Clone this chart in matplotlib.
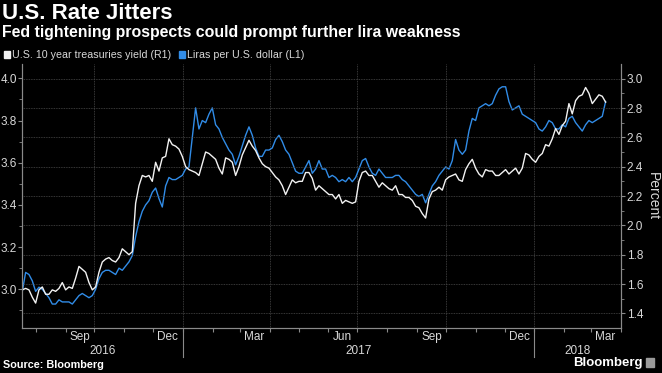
import pandas as pd
import matplotlib.pyplot as plt
import matplotlib.dates as mdates
from matplotlib.patches import Rectangle
from matplotlib.lines import Line2D

# readings, roughly every 3.5 days
dates = pd.date_range("2016-07-18", "2018-03-16", periods=176)

yield_pct = [
    1.56, 1.57, 1.56, 1.51, 1.47, 1.56, 1.58, 1.53, 1.53, 1.56, 1.55, 1.57, 1.61, 1.56, 1.58, 1.57,
    1.64, 1.72, 1.70, 1.68, 1.61, 1.56, 1.58, 1.68, 1.75, 1.77, 1.78, 1.76, 1.75, 1.78, 1.84, 1.82,
    1.80, 1.82, 2.15, 2.27, 2.34, 2.33, 2.34, 2.30, 2.43, 2.37, 2.46, 2.47, 2.59, 2.55, 2.54,
    2.52, 2.47, 2.40, 2.38, 2.37, 2.36, 2.34, 2.42, 2.50, 2.49, 2.47, 2.45, 2.39, 2.35, 2.46, 2.45,
    2.43, 2.34, 2.40, 2.48, 2.53, 2.58, 2.54, 2.51, 2.46, 2.42, 2.40, 2.39, 2.36, 2.33, 2.31, 2.27,
    2.21, 2.26, 2.31, 2.29, 2.30, 2.30, 2.36, 2.36, 2.32, 2.24, 2.27, 2.25, 2.23, 2.21,
    2.21, 2.18, 2.21, 2.15, 2.17, 2.16, 2.15, 2.16, 2.30, 2.36, 2.37, 2.34, 2.34, 2.30, 2.26, 2.29,
    2.27, 2.25, 2.24, 2.27, 2.21, 2.21, 2.19, 2.19, 2.17, 2.13, 2.12, 2.08, 2.05, 2.18, 2.23, 2.24,
    2.26, 2.24, 2.31, 2.33, 2.34, 2.35, 2.31, 2.30, 2.38, 2.42, 2.45, 2.39, 2.35,
    2.33, 2.38, 2.37, 2.37, 2.34, 2.34, 2.36, 2.38, 2.35, 2.37, 2.39, 2.35, 2.39, 2.49, 2.48, 2.45,
    2.43, 2.47, 2.49, 2.55, 2.54, 2.59, 2.66, 2.62, 2.68, 2.71, 2.83, 2.76, 2.85, 2.88, 2.89, 2.94,
    2.90, 2.83, 2.86, 2.89, 2.88, 2.84,
]

lira_per_usd = [
    2.99, 3.08, 3.07, 3.04, 2.99, 3.01, 3.00, 2.98, 2.96, 2.93, 2.93, 2.95, 2.94, 2.94, 2.94, 2.93,
    2.95, 2.97, 2.98, 2.97, 2.96, 2.97, 3.00, 3.05, 3.08, 3.09, 3.09, 3.08, 3.07, 3.10, 3.09, 3.11,
    3.13, 3.16, 3.25, 3.32, 3.37, 3.40, 3.42, 3.46, 3.48, 3.43, 3.39, 3.49, 3.53, 3.52, 3.52,
    3.53, 3.54, 3.57, 3.58, 3.72, 3.86, 3.76, 3.80, 3.79, 3.83, 3.86, 3.78, 3.76, 3.72, 3.69, 3.66,
    3.64, 3.59, 3.63, 3.68, 3.73, 3.77, 3.73, 3.67, 3.63, 3.63, 3.66, 3.66, 3.67, 3.71, 3.73, 3.70,
    3.66, 3.64, 3.60, 3.56, 3.55, 3.55, 3.58, 3.61, 3.55, 3.57, 3.61, 3.57, 3.57, 3.53,
    3.54, 3.53, 3.51, 3.52, 3.51, 3.53, 3.51, 3.53, 3.57, 3.61, 3.62, 3.58, 3.55, 3.54, 3.57, 3.55,
    3.53, 3.53, 3.53, 3.54, 3.54, 3.52, 3.51, 3.49, 3.47, 3.45, 3.44, 3.45, 3.41, 3.45, 3.49, 3.51,
    3.54, 3.56, 3.58, 3.57, 3.61, 3.71, 3.66, 3.64, 3.66, 3.75, 3.81, 3.80, 3.86,
    3.87, 3.88, 3.87, 3.88, 3.92, 3.95, 3.96, 3.96, 3.89, 3.85, 3.86, 3.87, 3.83, 3.82, 3.81, 3.80,
    3.79, 3.76, 3.75, 3.77, 3.80, 3.79, 3.76, 3.76, 3.78, 3.77, 3.81, 3.82, 3.79, 3.77, 3.75, 3.78,
    3.80, 3.79, 3.80, 3.81, 3.82, 3.89,
]

month_labels = ["Sep", "Dec", "Mar", "Jun", "Sep", "Dec", "Mar"]
month_label_dates = ["2016-09-16", "2016-12-16", "2017-03-16", "2017-06-16",
                     "2017-09-16", "2017-12-16", "2018-03-16"]
year_labels = ["2016", "2017", "2018"]

BG = "black"
TXT = "#d8d8d8"
GRID = "#4a4a4a"
SPINE = "#8a8a8a"
BLUE = "#318ce7"
WHITE = "#f2f2f2"
FONT = "Liberation Sans"

plt.rcParams["font.family"] = [FONT, "DejaVu Sans"]

W, H = 662, 373
fig = plt.figure(figsize=(W / 100, H / 100), dpi=100, facecolor=BG)
x0, x1, y_bot, y_top = 22.3, 621, 328.3, 64
ax = fig.add_axes([x0 / W, (H - y_bot) / H, (x1 - x0) / W, (y_bot - y_top) / H])
ax.set_facecolor(BG)
ax2 = ax.twinx()

start = pd.Timestamp("2016-07-18")
end = pd.Timestamp("2018-04-01")

ax.plot(dates, lira_per_usd, color=BLUE, lw=1.0)
ax2.plot(dates, yield_pct, color=WHITE, lw=1.0)

ax.set_xlim(start, end)
ax.set_ylim(2.815, 4.068)
ax2.set_ylim(1.298, 3.1)

# y ticks
ax.set_yticks([3.0, 3.2, 3.4, 3.6, 3.8, 4.0])
ax.set_yticks([2.9, 3.1, 3.3, 3.5, 3.7, 3.9], minor=True)
ax.set_yticklabels([f"{v:.1f}" for v in [3.0, 3.2, 3.4, 3.6, 3.8, 4.0]])
ax2.set_yticks([1.4, 1.6, 1.8, 2.0, 2.2, 2.4, 2.6, 2.8, 3.0])
ax2.set_yticks([1.5, 1.7, 1.9, 2.1, 2.3, 2.5, 2.7, 2.9], minor=True)
ax2.set_yticklabels([f"{v:.1f}" for v in [1.4, 1.6, 1.8, 2.0, 2.2, 2.4, 2.6, 2.8, 3.0]])
ax2.set_ylabel("Percent", color=TXT, fontsize=10, rotation=270, labelpad=12)

for a in (ax, ax2):
    a.tick_params(axis="y", which="major", colors=SPINE, labelcolor=TXT, labelsize=8.5,
                  length=3, width=0.8, pad=1)
    a.tick_params(axis="y", which="minor", colors=SPINE, length=2, width=0.6)
    for s in a.spines.values():
        s.set_color(SPINE)
        s.set_linewidth(0.8)
    a.spines["top"].set_visible(False)

# horizontal grid follows the right axis
ax2.grid(axis="y", which="major", color=GRID, lw=0.6, ls=(0, (1, 1)))
ax2.set_axisbelow(True)

# month ticks on the bottom, quarter gridlines
ax.xaxis.set_major_locator(mdates.MonthLocator())
ax.xaxis.set_major_formatter(plt.NullFormatter())
ax.tick_params(axis="x", colors=SPINE, length=3, width=0.8)
for q in pd.date_range("2016-10-01", "2018-01-01", freq="QS"):
    ax.axvline(q, color=GRID, lw=0.6, ls=(0, (1, 1)), zorder=0)

xt = ax.get_xaxis_transform()
for lab, d in zip(month_labels, month_label_dates):
    ax.text(pd.Timestamp(d), -0.033, lab, transform=xt, ha="center", va="center",
            color=TXT, fontsize=8.5)

year_edges = [start, pd.Timestamp("2017-01-01"), pd.Timestamp("2018-01-01"), end]
for i, lab in enumerate(year_labels):
    mid = year_edges[i] + (year_edges[i + 1] - year_edges[i]) / 2
    ax.text(mid, -0.085, lab, transform=xt, ha="center", va="center", color=TXT, fontsize=8.5)
for d in year_edges[1:3]:
    ax.add_line(Line2D([d, d], [-0.006, -0.108], transform=xt, color=SPINE, lw=0.8,
                       clip_on=False))

# titles
fig.text(2 / W, 1 - 13.5 / H, "U.S. Rate Jitters", color="white", fontsize=16,
         fontweight="bold", va="center", ha="left")
fig.text(2 / W, 1 - 32.5 / H, "Fed tightening prospects could prompt further lira weakness",
         color="white", fontsize=11.4, fontweight="bold", va="center", ha="left")

# legend
fig.patches.append(Rectangle((4 / W, 1 - 58 / H), 6 / W, 6.5 / H, transform=fig.transFigure,
                             color=WHITE))
fig.text(12 / W, 1 - 54.5 / H, "U.S. 10 year treasuries yield (R1)", color=TXT,
         fontsize=7.7, va="center", ha="left")
fig.patches.append(Rectangle((179 / W, 1 - 58 / H), 6 / W, 6.5 / H, transform=fig.transFigure,
                             color=BLUE))
fig.text(187 / W, 1 - 54.5 / H, "Liras per U.S. dollar (L1)", color=TXT,
         fontsize=7.7, va="center", ha="left")

# footer
fig.text(3 / W, 1 - 365 / H, "Source: Bloomberg", color="white", fontsize=7.8,
         fontweight="bold", va="center", ha="left")
fig.text(643 / W, 1 - 363 / H, "Bloomberg", color="white", fontsize=9.5,
         fontweight="bold", va="center", ha="right")
fig.patches.append(Rectangle((646 / W, 1 - 367 / H), 8 / W, 9 / H, transform=fig.transFigure,
                             color="#9a9a9a"))

fig.savefig("out.png", dpi=100, facecolor=BG)
